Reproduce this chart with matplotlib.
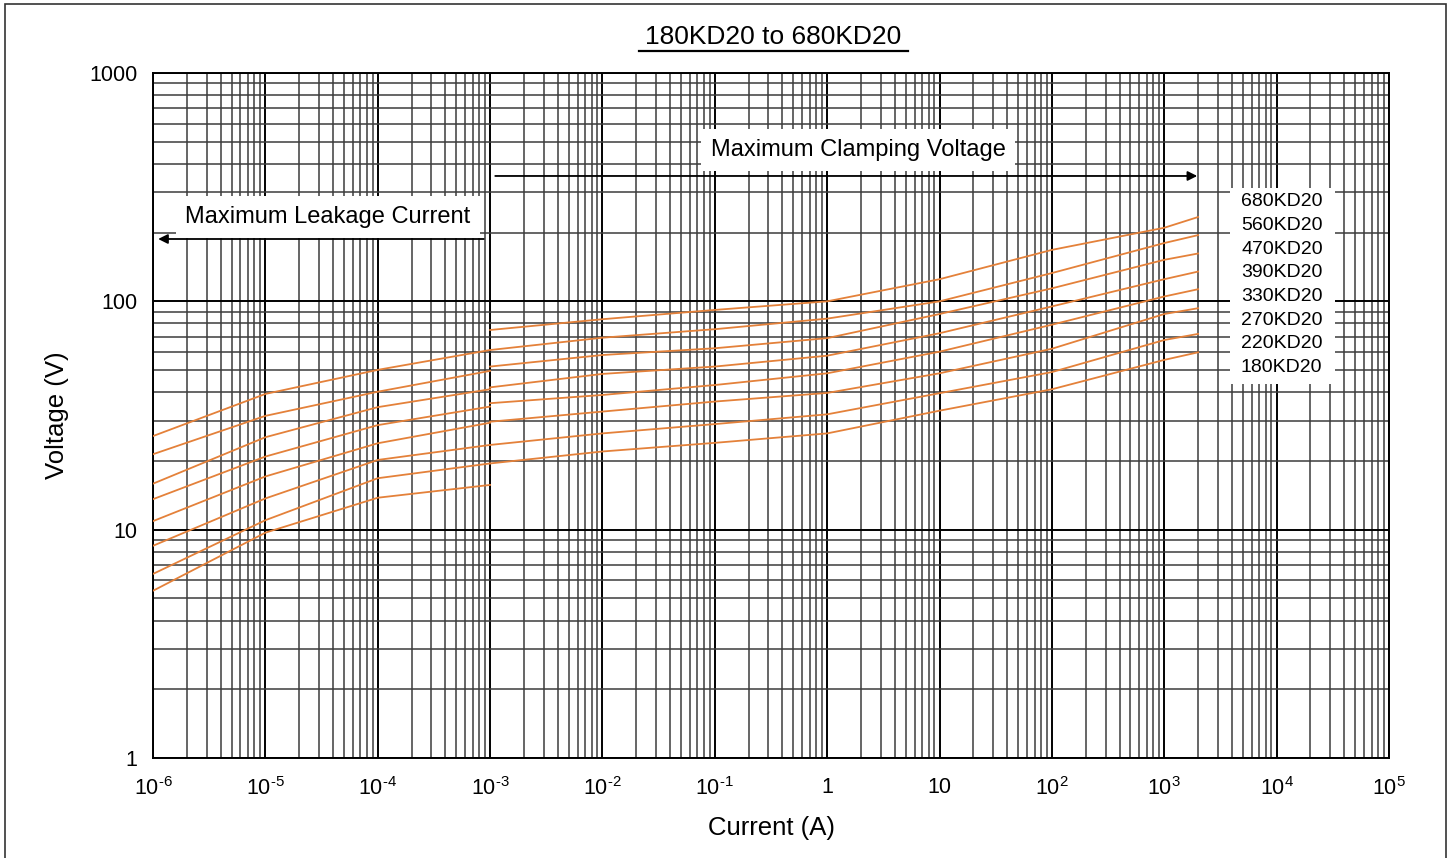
import numpy as np
import matplotlib
matplotlib.use('Agg')
import matplotlib.pyplot as plt
from matplotlib.ticker import LogLocator, FixedLocator, NullFormatter
from matplotlib.patches import Rectangle
from matplotlib.lines import Line2D

plt.rcParams['font.family'] = ['Liberation Sans', 'DejaVu Sans']
plt.rcParams['mathtext.fontset'] = 'custom'
plt.rcParams['mathtext.rm'] = 'Liberation Sans'
plt.rcParams['mathtext.it'] = 'Liberation Sans:italic'

# 型号 (从上到下)
models = ['680KD20', '560KD20', '470KD20', '390KD20', '330KD20', '270KD20', '220KD20', '180KD20']

# 漏电流区 (A)
leak_i = [1e-6, 1e-5, 1e-4, 1e-3]
leak_v = [
    [25.7, 39.3, 50.1, 61.2],
    [21.4, 31.5, 40.2, 49.6],
    [15.9, 25.4, 34.4, 41.2],
    [13.6, 20.9, 28.7, 34.6],
    [10.9, 17.1, 23.9, 29.4],
    [8.5, 13.7, 20.2, 23.5],
    [6.4, 11.0, 16.8, 19.5],
    [5.4, 9.7, 13.8, 15.7],
]

# 限制电压区 (A)
clamp_i = [1e-3, 1e-2, 1e-1, 1, 10, 100, 1000, 2000]
clamp_v = [
    [74.9, 83.5, 91.7, 100, 125, 168, 210, 234],
    [61.2, 69.3, 75.5, 84, 100, 133, 180, 195],
    [51.8, 58.2, 62.3, 69, 88, 114, 152, 162],
    [42.0, 48.1, 51.8, 57.8, 72.5, 95, 125, 135],
    [35.8, 38.9, 43.0, 48.4, 60.2, 79, 105, 113],
    [29.7, 32.9, 36.4, 39.7, 48.4, 62, 88, 93.3],
    [23.5, 26.4, 29.0, 32.0, 39.6, 49.0, 67.7, 72],
    [19.5, 22.0, 24.0, 26.4, 33.2, 41.2, 55.4, 59.8],
]

xticks = [1e-6, 1e-5, 1e-4, 1e-3, 1e-2, 1e-1, 1, 10, 1e2, 1e3, 1e4, 1e5]
xtick_labels = [r'$10^{\text{-}6}$', r'$10^{\text{-}5}$', r'$10^{\text{-}4}$', r'$10^{\text{-}3}$',
                r'$10^{\text{-}2}$', r'$10^{\text{-}1}$',
                '1', '10', '$10^{2}$', '$10^{3}$', '$10^{4}$', '$10^{5}$']
yticks = [1, 10, 100, 1000]
ytick_labels = ['1', '10', '100', '1000']

W, H = 1451, 858
fig = plt.figure(figsize=(W / 100, H / 100), dpi=100)
ax = fig.add_axes([153 / W, 1 - 758 / H, 1236 / W, 685 / H])
ax.set_xscale('log')
ax.set_yscale('log')
ax.set_xlim(1e-6, 1e5)
ax.set_ylim(1, 1000)

ax.xaxis.set_major_locator(FixedLocator(xticks))
ax.xaxis.set_minor_locator(LogLocator(base=10, subs=np.arange(2, 10), numticks=100))
ax.yaxis.set_major_locator(FixedLocator(yticks))
ax.yaxis.set_minor_locator(LogLocator(base=10, subs=np.arange(2, 10), numticks=100))
ax.set_xticklabels(xtick_labels)
ax.set_yticklabels(ytick_labels)
ax.xaxis.set_minor_formatter(NullFormatter())
ax.yaxis.set_minor_formatter(NullFormatter())
ax.tick_params(which='both', length=0, labelsize=15.5)
ax.tick_params(axis='x', pad=14)
ax.tick_params(axis='y', pad=11)

ax.grid(which='major', color='black', lw=1.4)
ax.grid(which='minor', color='#3c3c3c', lw=1.1)
for s in ax.spines.values():
    s.set_color('black')
    s.set_linewidth(1.4)

col = '#E4813A'
for v in leak_v:
    ax.plot(leak_i, v, color=col, lw=1.3, zorder=3)
for v in clamp_v:
    ax.plot(clamp_i, v, color=col, lw=1.3, zorder=3)

# 箭头和说明
ax.annotate('', xy=(2080, 354), xytext=(1.05e-3, 354),
            arrowprops=dict(arrowstyle='-|>', color='black', lw=1.3, mutation_scale=14), zorder=4)
ax.annotate('', xy=(1.05e-6, 187.5), xytext=(9.3e-4, 187.5),
            arrowprops=dict(arrowstyle='-|>', color='black', lw=1.3, mutation_scale=14), zorder=4)
ax.text(1.88, 460, 'Maximum Clamping Voltage', ha='center', va='center', fontsize=17, zorder=5,
        bbox=dict(facecolor='white', edgecolor='none', pad=7))
ax.text(3.6e-5, 234, 'Maximum Leakage Current', ha='center', va='center', fontsize=17, zorder=5,
        bbox=dict(facecolor='white', edgecolor='none', pad=7))

# 右侧型号标注
bx0, bx1, by0, by1 = 1230, 1335, 188, 384
fig.add_artist(Rectangle((bx0 / W, 1 - by1 / H), (bx1 - bx0) / W, (by1 - by0) / H,
                         transform=fig.transFigure, facecolor='white', edgecolor='none', zorder=5))
for k, m in enumerate(models):
    fig.text(1241 / W, 1 - (201.7 + 23.7 * k) / H, m, ha='left', va='center', fontsize=14, zorder=6)

# 标题
fig.text(773 / W, 1 - 44 / H, '180KD20 to 680KD20', ha='center', va='baseline', fontsize=19)
fig.add_artist(Line2D([639 / W, 908 / W], [1 - 50.5 / H] * 2, color='black', lw=1.6))

fig.text(772 / W, 1 - 828 / H, 'Current (A)', ha='center', va='center', fontsize=18.5)
fig.text(57 / W, 1 - 415 / H, 'Voltage (V)', ha='center', va='center', fontsize=18.5, rotation=90)

# 外框
fig.add_artist(Rectangle((5 / W, -0.02), 1441 / W, 1 - 4 / H + 0.02, transform=fig.transFigure,
                         fill=False, edgecolor='#333333', lw=1.2))

fig.savefig('out.png', dpi=100)
